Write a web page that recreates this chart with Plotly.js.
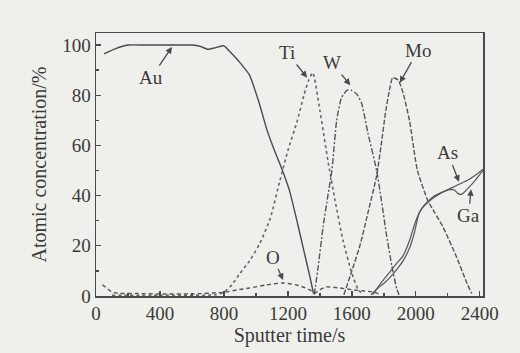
<!DOCTYPE html>
<html>
<head>
<meta charset="utf-8">
<script src="https://cdn.plot.ly/plotly-3.0.1.min.js"></script>
<style>html,body{margin:0;padding:0;background:#efefec;}#chart{width:520px;height:353px;}</style>
</head>
<body>
<div id="chart"></div>
<script>
// Sputter time (s) and atomic concentration (%) per element
const auTime = [50, 120, 200, 300, 400, 500, 600, 650, 700, 750, 800, 850, 900, 960, 1020, 1070, 1110, 1160, 1210, 1260, 1300, 1340, 1360];
const auConc = [96.5, 98.5, 100, 100, 100, 100, 100, 99.5, 98.3, 99, 99.7, 96.5, 93, 88, 77, 66, 59, 51, 42, 29, 18, 7, 1];

const tiTime = [100, 400, 750, 800, 850, 900, 960, 1025, 1090, 1150, 1200, 1255, 1300, 1330, 1356, 1400, 1450, 1495, 1545, 1600, 1640, 1670];
const tiConc = [0.3, 0.3, 0.5, 1.5, 4.5, 9, 14, 21, 31, 46, 58, 69, 80, 86, 89, 74, 54, 38, 22, 9, 2.5, 0.5];

const wTime = [1365, 1390, 1420, 1450, 1475, 1505, 1535, 1570, 1595, 1630, 1660, 1700, 1755, 1785, 1815, 1850, 1880, 1895];
const wConc = [0.5, 12, 27.5, 40, 50, 70, 79, 82, 82, 80.5, 77, 65, 50, 38, 25, 12, 3, 0.5];

const moTime = [1550, 1600, 1650, 1700, 1755, 1785, 1810, 1835, 1855, 1890, 1920, 1960, 2010, 2075, 2120, 2170, 2255, 2320, 2350];
const moConc = [0.5, 10, 20, 33, 48, 61, 73, 82, 87, 86, 81, 70, 50, 38, 33, 27.5, 15.5, 5, 1];

const gaTime = [1720, 1760, 1800, 1840, 1880, 1920, 1960, 1990, 2020, 2050, 2080, 2120, 2170, 2220, 2245, 2265, 2285, 2305, 2335, 2370, 2400, 2420];
const gaConc = [0.5, 3, 5, 7.5, 10.5, 14, 19, 25, 33, 36, 38, 40, 41.5, 42.5, 42, 40.8, 40.5, 41.5, 43.5, 46, 48.5, 50];

const asTime = [1730, 1780, 1830, 1880, 1920, 1960, 2000, 2040, 2080, 2120, 2170, 2220, 2270, 2320, 2370, 2420];
const asConc = [0.5, 5, 9, 13, 16, 22, 30, 35, 37.5, 39.5, 41.5, 43, 44.5, 46, 48, 50.5];

const oTime = [40, 60, 100, 150, 250, 400, 600, 800, 880, 960, 1065, 1170, 1255, 1310, 1350, 1370, 1400, 1440, 1525, 1600, 1680, 1740, 1780];
const oConc = [4.5, 3.5, 1.5, 1, 1, 0.8, 0.8, 1.5, 2.4, 3.2, 4.4, 5.2, 4.4, 3.2, 2, 1.2, 2.5, 3.6, 3.2, 2.5, 2, 1.5, 0.5];

// Labels: [text, arrow head x, head y, text x, text y]
const labelText = ['Au', 'Ti', 'W', 'Mo', 'As', 'Ga', 'O'];
const labelHeadX = [475, 1320, 1590, 1900, 2270, 2345, 1170];
const labelHeadY = [99.2, 87, 84, 85, 45.5, 42.5, 6.4];
const labelTextX = [345, 1195, 1475, 2015, 2200, 2330, 1105];
const labelTextY = [87, 97, 93, 98, 57, 32, 15.5];

const xTickVals = [0, 400, 800, 1200, 1600, 2000, 2400];
const yTickVals = [0, 20, 40, 60, 80, 100];

const ink = '#4a4a4a';
function tr(x, y, dash, color, w) {
  return {x: x, y: y, mode: 'lines', type: 'scatter', line: {color: color || ink, width: w || 1.4, dash: dash, shape: 'spline', smoothing: 0.5}, hoverinfo: 'skip', showlegend: false};
}

const data = [
  tr(oTime, oConc, '4px,3px', '#555'),
  tr(auTime, auConc, 'solid'),
  tr(tiTime, tiConc, 'dot', '#666', 1.6),
  tr(wTime, wConc, '6px,2px,2px,2px', '#555'),
  tr(moTime, moConc, '5px,2px', '#555'),
  tr(gaTime, gaConc, 'solid', '#555', 1.2),
  tr(asTime, asConc, 'solid', '#555', 1.2)
];

const annotations = labelText.map((t, i) => ({
  text: t, x: labelHeadX[i], y: labelHeadY[i], ax: labelTextX[i], ay: labelTextY[i],
  xref: 'x', yref: 'y', axref: 'x', ayref: 'y',
  showarrow: true, arrowhead: 2, arrowsize: 1, arrowwidth: 1.3, arrowcolor: ink,
  font: {family: 'Liberation Serif', size: 19, color: '#3a3a3a'}
}));

const font = {family: 'Liberation Serif', size: 19, color: '#3a3a3a'};

const layout = {
  width: 520, height: 353,
  margin: {l: 96, r: 37, t: 33, b: 57},
  paper_bgcolor: '#efefec', plot_bgcolor: '#efefec',
  font: font,
  showlegend: false,
  xaxis: {
    range: [0, 2420], tickvals: xTickVals, ticktext: xTickVals.map(String),
    ticks: 'inside', ticklen: 5, tickwidth: 1.3, tickcolor: ink,
    minor: {dtick: 200, ticks: 'inside', ticklen: 3, tickcolor: ink},
    showline: true, linecolor: ink, linewidth: 1.5, mirror: true,
    showgrid: false, zeroline: false,
    tickfont: font,
    title: {text: 'Sputter time/s', font: {family: 'Liberation Serif', size: 20, color: '#3a3a3a'}, standoff: 4}
  },
  yaxis: {
    range: [0, 104.8], tickvals: yTickVals, ticktext: yTickVals.map(String),
    ticks: 'inside', ticklen: 5, tickwidth: 1.3, tickcolor: ink,
    minor: {dtick: 10, ticks: 'inside', ticklen: 3, tickcolor: ink},
    showline: true, linecolor: ink, linewidth: 1.5, mirror: true,
    showgrid: false, zeroline: false,
    tickfont: font,
    title: {text: 'Atomic concentration/%', font: {family: 'Liberation Serif', size: 20, color: '#3a3a3a'}, standoff: 10}
  },
  annotations: annotations
};

Plotly.newPlot('chart', data, layout, {displayModeBar: false, staticPlot: true});
</script>
</body>
</html>
